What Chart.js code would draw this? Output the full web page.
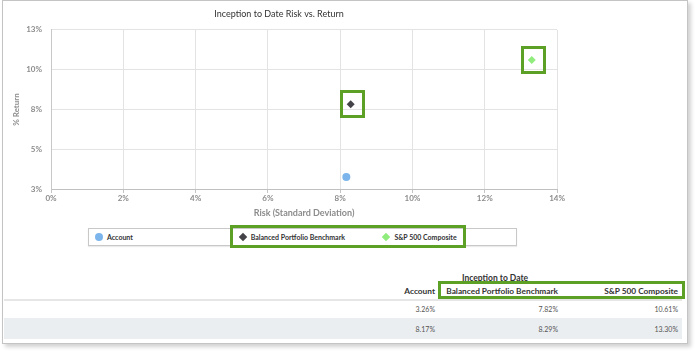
<!DOCTYPE html>
<html>
<head>
<meta charset="utf-8">
<title>Inception to Date Risk vs. Return</title>
<script src="https://cdn.jsdelivr.net/npm/chart.js@4/dist/chart.umd.min.js"></script>
<style>
    body { margin: 0; background: #fff; font-family: 'Lato', sans-serif; color: #333; }
    #card {
        position: absolute; left: 2px; top: 0; width: 684px; height: 342px;
        border: 1px solid #c4c4c4; box-shadow: 3px 3px 4px rgba(0,0,0,0.18); background: #fff;
    }
    #chartBox { position: absolute; left: 0; top: 0; width: 566px; height: 222px; }
    #legend {
        position: absolute; left: 88px; top: 228px; width: 427px; height: 16px;
        border: 1px solid #c8c8c8; box-shadow: 0 1px 1px rgba(0,0,0,0.08);
    }
    .item { position: absolute; top: 0; height: 16px; line-height: 16px; font-size: 7px; font-weight: bold; color: #333; white-space: nowrap; }
    .mark { position: absolute; top: 4px; left: 1px; width: 8px; height: 8px; }
    .mark.circle { border-radius: 50%; }
    .mark.rectRot { width: 6px; height: 6px; top: 5px; left: 2px; transform: rotate(45deg); }
    .item span { position: absolute; left: 13px; top: 0; }
    .hl { position: absolute; box-sizing: border-box; border: 3px solid #5ca026; }
    .cell { position: absolute; white-space: nowrap; text-align: right; line-height: 12px; }
    .hdr { font-weight: bold; font-size: 8.3px; color: #333; }
    .ttl { font-weight: bold; font-size: 8.5px; color: #333; }
    .val { font-size: 7px; color: #555; }
    #sep { position: absolute; left: 4px; top: 299px; width: 678px; height: 2px; background: #e6e6e6; }
    #stripe { position: absolute; left: 4px; top: 318px; width: 678px; height: 21px; background: #ebeef1; }
</style>
</head>
<body>
<div id="card"></div>
<div id="chartBox"><canvas id="riskChart"></canvas></div>
<div id="legend"></div>
<div class="hl" style="left:230px; top:225px; width:236px; height:23px;"></div>

<div class="cell ttl" style="left:462px; top:272px;">Inception to Date</div>
<div id="sep"></div>
<div id="stripe"></div>
<div id="table"></div>
<div class="hl" style="left:438px; top:281px; width:247px; height:18px;"></div>

<script>
    // values
    var seriesNames = ['Account', 'Balanced Portfolio Benchmark', 'S&P 500 Composite'];
    var riskValues = [8.17, 8.29, 13.30];     // x, standard deviation %
    var returnValues = [3.26, 7.82, 10.61];   // y, return %
    var seriesColors = ['#7cb5ec', '#434348', '#90ed7d'];
    var seriesShapes = ['circle', 'rectRot', 'rectRot'];
    var highlighted = [false, true, true];

    var xMin = 0, xMax = 14, xStep = 2;
    var yMin = 2.5, yMax = 12.5, yStep = 2.5;

    var tickFont = { family: 'Lato', size: 8, weight: 'bold' };
    var tickColor = '#8c8c8c';

    // green boxes drawn around the highlighted points
    var highlightBoxes = {
        id: 'highlightBoxes',
        afterDatasetsDraw: function(chart) {
            var ctx = chart.ctx;
            ctx.save();
            ctx.strokeStyle = '#5ca026';
            ctx.lineWidth = 3;
            chart.data.datasets.forEach(function(ds, i) {
                if (!highlighted[i]) return;
                chart.getDatasetMeta(i).data.forEach(function(pt) {
                    ctx.strokeRect(Math.round(pt.x) - 10.5 + 1, Math.round(pt.y) - 12.5, 22, 25);
                });
            });
            ctx.restore();
        }
    };

    var datasets = seriesNames.map(function(name, i) {
        return {
            label: name,
            data: [{ x: riskValues[i], y: returnValues[i] }],
            backgroundColor: seriesColors[i],
            borderColor: seriesColors[i],
            borderWidth: 0,
            pointStyle: seriesShapes[i],
            pointRadius: 4
        };
    });

    var ctx = document.getElementById('riskChart').getContext('2d');
    var chart = new Chart(ctx, {
        type: 'scatter',
        data: { datasets: datasets },
        options: {
            responsive: true,
            maintainAspectRatio: false,
            animation: false,
            layout: { padding: { left: 0, right: 8, top: 0, bottom: 0 } },
            plugins: {
                legend: { display: false },
                tooltip: { enabled: false },
                title: {
                    display: true,
                    text: 'Inception to Date Risk vs. Return',
                    color: '#333',
                    font: { family: 'Lato', size: 9, weight: 'normal' },
                    padding: { top: 9, bottom: 10.1 }
                }
            },
            scales: {
                x: {
                    type: 'linear',
                    min: xMin, max: xMax,
                    ticks: { stepSize: xStep, color: tickColor, font: tickFont, padding: 1, maxRotation: 0,
                        callback: function(v) { return v + '%'; } },
                    grid: { color: '#e3e3e3', tickLength: 4, tickColor: '#c4c4c4' },
                    border: { color: '#c0c0c0' },
                    title: { display: true, text: 'Risk (Standard Deviation)', color: '#8c8c8c',
                        font: { family: 'Lato', size: 9, weight: 'bold' }, padding: { top: 0, bottom: 3.3 } },
                    afterFit: function(s) { s.height = 33; }
                },
                y: {
                    min: yMin, max: yMax,
                    ticks: { stepSize: yStep, color: tickColor, font: tickFont, padding: 9,
                        callback: function(v) { return Math.round(v) + '%'; } },
                    grid: { color: '#e3e3e3', drawTicks: false },
                    border: { color: '#c8c8c8' },
                    title: { display: true, text: '% Return', color: '#8c8c8c',
                        font: { family: 'Lato', size: 8, weight: 'bold' }, padding: { top: 12, bottom: 0 } },
                    afterFit: function(s) { s.width = 51; }
                }
            }
        },
        plugins: [highlightBoxes]
    });

    // html legend
    var legend = document.getElementById('legend');
    seriesNames.forEach(function(name, i) {
        var item = document.createElement('div');
        item.className = 'item';
        item.style.left = (5 + 143.7 * i) + 'px';
        item.innerHTML = '<div class="mark ' + seriesShapes[i] + '" style="background:' + seriesColors[i] + '"></div><span></span>';
        item.querySelector('span').textContent = name;
        legend.appendChild(item);
    });

    // table under the chart: header, returns row, risk row
    var colRight = [435, 558, 678];
    var rowY = [291, 309, 329];
    var table = document.getElementById('table');
    function addCell(text, cls, col, row) {
        var d = document.createElement('div');
        d.className = 'cell ' + cls;
        d.style.right = (697 - colRight[col]) + 'px';
        d.style.top = (rowY[row] - 6) + 'px';
        d.textContent = text;
        table.appendChild(d);
    }
    seriesNames.forEach(function(name, i) {
        addCell(name, 'hdr', i, 0);
        addCell(returnValues[i].toFixed(2) + '%', 'val', i, 1);
        addCell(riskValues[i].toFixed(2) + '%', 'val', i, 2);
    });
</script>
</body>
</html>
